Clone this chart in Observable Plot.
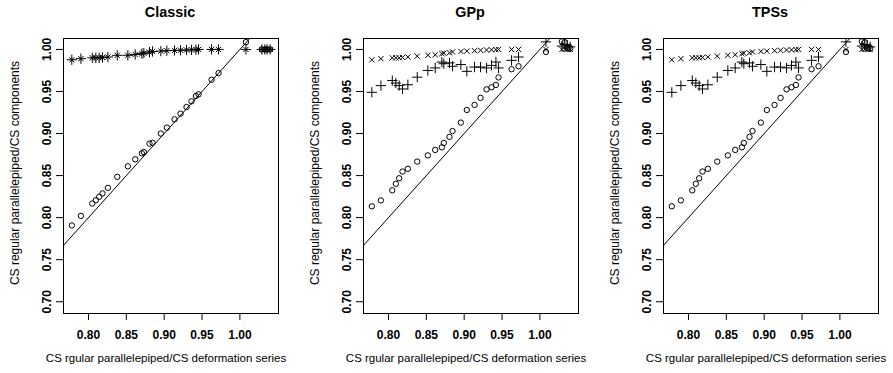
<!DOCTYPE html>
<html><head><meta charset="utf-8">
<script src="https://cdn.jsdelivr.net/npm/d3@7"></script>
<script src="https://cdn.jsdelivr.net/npm/@observablehq/plot@0.6"></script>
<style>
body{margin:0;background:#fff;}
#row{display:flex;width:893px;height:373px;}
#row svg{display:block;flex:none;}
</style></head><body><div id="row"></div>
<script>
// x values: CS regular parallelepiped / CS deformation series
const deformation = [0.778,0.790,0.805,0.8097,0.8141,0.8185,0.8256,0.838,0.852,0.8617,0.8705,0.8731,0.8806,0.8846,0.8956,0.9035,0.9137,0.9216,0.9295,0.9361,0.9419,0.9454,0.9626,0.9718,1.008,1.029,1.033,1.036,1.040];

// Classic
const classicCircle = [0.7907,0.8021,0.8168,0.8207,0.8248,0.8288,0.8354,0.8485,0.861,0.8694,0.8765,0.878,0.888,0.889,0.900,0.907,0.9169,0.9236,0.9315,0.9383,0.9446,0.9466,0.964,0.9719,1.0087,1.0,1.0,1.0,1.0];
const classicPlus = [0.9877,0.989,0.990,0.990,0.990,0.9905,0.991,0.993,0.993,0.994,0.995,0.9956,0.9968,0.9976,0.998,0.9985,0.9988,0.999,0.9993,0.9995,0.9998,1.0,1.0,1.0,1.0,1.0,1.0,1.0,1.0];
const classicTimes = [0.9877,0.989,0.990,0.990,0.990,0.9905,0.991,0.993,0.993,0.994,0.995,0.9956,0.9968,0.9976,0.998,0.9985,0.9988,0.999,0.9993,0.9995,0.9998,1.0,1.0,1.0,1.0,1.0,1.0,1.0,1.0];

// GPp
const gppCircle = [0.8135,0.8205,0.8325,0.8402,0.8468,0.8548,0.858,0.8666,0.874,0.8805,0.8836,0.8888,0.896,0.903,0.913,0.928,0.934,0.9424,0.9525,0.955,0.9578,0.9667,0.9765,0.980,0.997,1.0095,1.0085,1.002,1.001];
const gppPlus = [0.949,0.957,0.963,0.960,0.957,0.953,0.958,0.967,0.975,0.978,0.985,0.983,0.984,0.980,0.982,0.974,0.979,0.979,0.978,0.981,0.985,0.978,0.987,0.991,1.009,1.004,1.006,1.005,1.003];
const gppTimes = [0.9877,0.989,0.990,0.990,0.990,0.9905,0.991,0.992,0.993,0.9937,0.995,0.9956,0.996,0.997,0.9976,0.998,0.9985,0.999,0.9993,0.9995,0.9998,1.0,1.0,1.0,1.0,1.0,1.0,1.0,1.0];

// TPSs
const tpsCircle = [0.8135,0.8205,0.8325,0.8402,0.8468,0.8548,0.858,0.8666,0.874,0.8805,0.8836,0.8888,0.896,0.903,0.913,0.928,0.934,0.9424,0.9525,0.955,0.9578,0.9667,0.9765,0.980,0.997,1.0095,1.0085,1.002,1.001];
const tpsPlus = [0.949,0.957,0.963,0.960,0.957,0.953,0.958,0.967,0.975,0.978,0.985,0.983,0.984,0.980,0.982,0.974,0.979,0.979,0.978,0.981,0.985,0.978,0.987,0.991,1.009,1.004,1.006,1.005,1.003];
const tpsTimes = [0.9877,0.989,0.990,0.990,0.990,0.9905,0.991,0.992,0.993,0.9937,0.995,0.9956,0.996,0.997,0.9976,0.998,0.9985,0.999,0.9993,0.9995,0.9998,1.0,1.0,1.0,1.0,1.0,1.0,1.0,1.0];

const titles = ["Classic", "GPp", "TPSs"];
const xTicks = [0.80, 0.85, 0.90, 0.95, 1.00];
const yTicks = [0.70, 0.75, 0.80, 0.85, 0.90, 0.95, 1.00];
const xLabel = "CS rgular parallelepiped/CS deformation series";
const yLabel = "CS regular parallelepiped/CS components";

const xDomain = [0.767, 1.051];
const yDomain = [0.686, 1.013];

const panels = [
  {title: titles[0], circle: classicCircle, plus: classicPlus, times: classicTimes, width: 300},
  {title: titles[1], circle: gppCircle, plus: gppPlus, times: gppTimes, width: 300},
  {title: titles[2], circle: tpsCircle, plus: tpsPlus, times: tpsTimes, width: 293}
];

const fmt = d3.format(".2f");

function panel(p) {
  const pts = ys => deformation.map((x, i) => ({x, y: ys[i]}));
  return Plot.plot({
    width: p.width,
    height: 373,
    marginLeft: 63,
    marginRight: p.width - 278,
    marginTop: 38,
    marginBottom: 60,
    x: {domain: xDomain},
    y: {domain: yDomain},
    style: {fontFamily: "'Liberation Sans', Arial, Helvetica, sans-serif", fontSize: "12px", background: "white", color: "black", overflow: "visible"},
    marks: [
      Plot.axisX({ticks: xTicks, tickSize: 7, tickPadding: 10, tickFormat: fmt, fontWeight: "bold", fontSize: 12, label: null}),
      Plot.axisY({ticks: yTicks, tickSize: 7, tickPadding: 6, tickRotate: -90, tickFormat: fmt, fontWeight: "bold", fontSize: 12, label: null}),
      Plot.line(xDomain, {x: d => d, y: d => d, stroke: "black", strokeWidth: 1, clip: true}),
      Plot.dot(pts(p.circle), {x: "x", y: "y", r: 2.7, fill: "none", stroke: "black", strokeWidth: 1, clip: true}),
      Plot.dot(pts(p.plus), {x: "x", y: "y", symbol: "plus", r: 3.4, fill: "none", stroke: "black", strokeWidth: 1, clip: true}),
      Plot.dot(pts(p.times), {x: "x", y: "y", symbol: "times", r: 2.5, fill: "none", stroke: "black", strokeWidth: 1, clip: true}),
      Plot.frame({stroke: "black", strokeWidth: 1}),
      Plot.text([p.title], {text: d => d, frameAnchor: "top", dx: -1, dy: -21.3, lineAnchor: "bottom", fontSize: 14.4, fontWeight: "bold"}),
      Plot.text([yLabel], {text: d => d, frameAnchor: "left", dx: -48, dy: -3, rotate: -90, textAnchor: "middle", lineAnchor: "middle", fontSize: 12}),
      Plot.text([xLabel], {text: d => d, frameAnchor: "bottom", dx: -5, dy: 48, textAnchor: "middle", lineAnchor: "bottom", fontSize: 11.5})
    ]
  });
}

const row = document.getElementById("row");
for (const p of panels) row.appendChild(panel(p));
</script>
</body></html>
